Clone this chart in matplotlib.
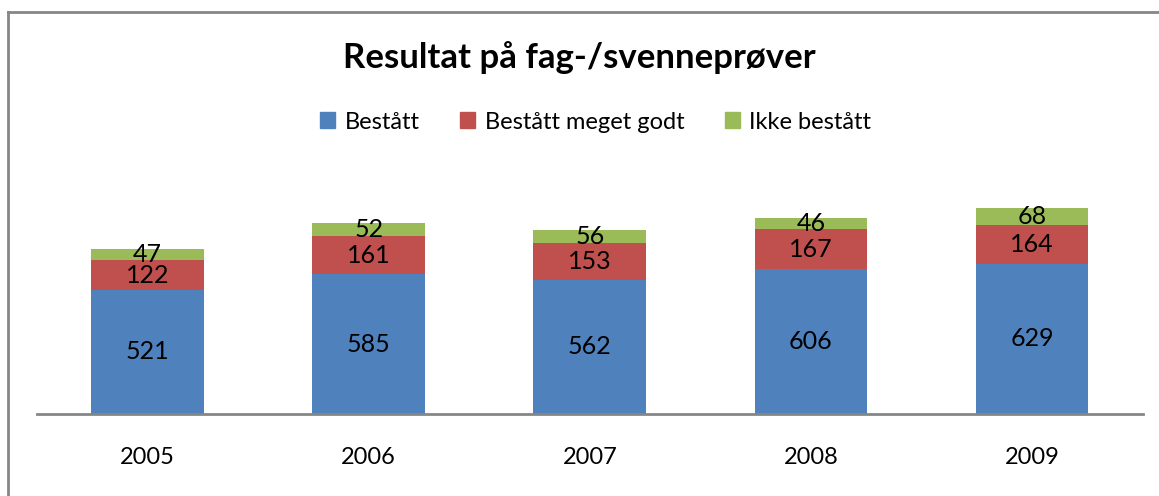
import matplotlib
matplotlib.use('Agg')
import matplotlib.pyplot as plt
from matplotlib.lines import Line2D
from matplotlib.patches import Patch
import numpy as np

plt.rcParams['font.family'] = ['Lato', 'DejaVu Sans']

years = ['2005', '2006', '2007', '2008', '2009']
bestatt = [521, 585, 562, 606, 629]
meget_godt = [122, 161, 153, 167, 164]
ikke_bestatt = [47, 52, 56, 46, 68]
series_names = ['Bestått', 'Bestått meget godt', 'Ikke bestått']
colors = ['#4F81BD', '#C0504D', '#9BBB59']

fig = plt.figure(figsize=(11.59, 4.96), dpi=100)
ax = fig.add_axes([0.0319, 0.165, 0.954, 0.482])

x = np.arange(len(years))
bottom = np.zeros(len(years))
for vals, name, col in zip([bestatt, meget_godt, ikke_bestatt], series_names, colors):
    bars = ax.bar(x, vals, width=0.51, bottom=bottom, color=col, label=name)
    for b, v, b0 in zip(bars, vals, bottom):
        ax.text(b.get_x() + b.get_width() / 2, b0 + v / 2, str(v),
                ha='center', va='center', fontsize=18, color='black')
    bottom = bottom + np.array(vals)

ax.set_xlim(-0.5, len(years) - 0.5)
ax.set_ylim(0, 1000)
ax.set_yticks([])
ax.set_xticks(x)
ax.set_xticklabels(years, fontsize=17)
ax.tick_params(axis='x', length=0, pad=24)
for s in ['top', 'right', 'left']:
    ax.spines[s].set_visible(False)
ax.spines['bottom'].set_color('#868686')
ax.spines['bottom'].set_linewidth(2)

fig.text(0.5, 0.885, 'Resultat på fag-/svenneprøver', ha='center', va='center',
         fontsize=25, fontweight='bold')

handles = [Patch(color=c) for c in colors]
fig.legend(handles, series_names, loc='center', bbox_to_anchor=(0.514, 0.754),
           ncol=3, frameon=False, fontsize=17, handlelength=0.65, handleheight=0.65,
           handletextpad=0.4, columnspacing=1.7)

# outer chart border
fig.add_artist(Line2D([0.0069, 0.0069], [0.0, 0.976], transform=fig.transFigure,
                      color='#868686', lw=2))
fig.add_artist(Line2D([0.0069, 1.0], [0.976, 0.976], transform=fig.transFigure,
                      color='#868686', lw=2))

fig.savefig('out.png', dpi=100)
